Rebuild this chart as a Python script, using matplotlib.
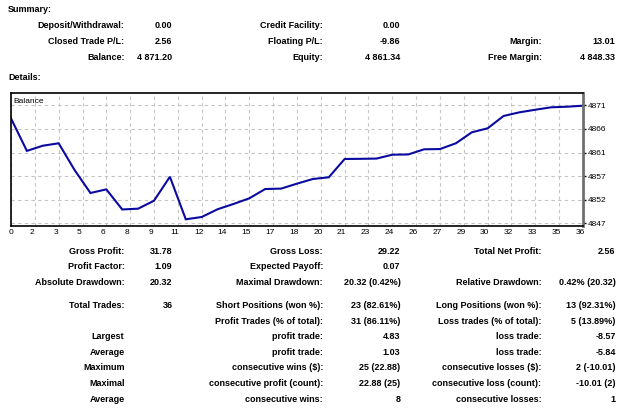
import matplotlib
matplotlib.use("Agg")
import matplotlib.pyplot as plt
import matplotlib.transforms as mtransforms
from matplotlib import font_manager


# Kontostand nach jedem Trade (0 = Start)
trades = list(range(37))
balance = [4868.64, 4862.10, 4863.14, 4863.63, 4858.25, 4853.62, 4854.35,
           4850.30, 4850.46, 4852.06, 4856.89, 4848.32, 4848.78, 4850.34,
           4851.40, 4852.55, 4854.42, 4854.50, 4855.50, 4856.44, 4856.78,
           4860.47, 4860.50, 4860.55, 4861.33, 4861.38, 4862.42, 4862.47,
           4863.63, 4865.84, 4866.65, 4869.13, 4869.87, 4870.39, 4870.88,
           4871.00, 4871.20]

x_ticks = [i * 1.5 for i in range(25)]
x_tick_labels = ["0", "2", "3", "5", "6", "8", "9", "11", "12", "14", "15",
                 "17", "18", "20", "21", "23", "24", "26", "27", "29", "30",
                 "32", "33", "35", "36"]
y_ticks = [4847.51, 4852.26, 4857.02, 4861.77, 4866.52, 4871.28]
y_tick_labels = ["4847", "4852", "4857", "4861", "4866", "4871"]

summary_col1 = [("Deposit/Withdrawal:", "0.00"), ("Closed Trade P/L:", "2.56"),
                ("Balance:", "4 871.20")]
summary_col2 = [("Credit Facility:", "0.00"), ("Floating P/L:", "-9.86"),
                ("Equity:", "4 861.34")]
summary_col3 = [("", ""), ("Margin:", "13.01"), ("Free Margin:", "4 848.33")]

details_col1 = [("Gross Profit:", "31.78"), ("Profit Factor:", "1.09"),
                ("Absolute Drawdown:", "20.32"), ("Total Trades:", "36"),
                ("", ""), ("Largest", ""), ("Average", ""), ("Maximum", ""),
                ("Maximal", ""), ("Average", "")]
details_col2 = [("Gross Loss:", "29.22"), ("Expected Payoff:", "0.07"),
                ("Maximal Drawdown:", "20.32 (0.42%)"),
                ("Short Positions (won %):", "23 (82.61%)"),
                ("Profit Trades (% of total):", "31 (86.11%)"),
                ("profit trade:", "4.83"), ("profit trade:", "1.03"),
                ("consecutive wins ($):", "25 (22.88)"),
                ("consecutive profit (count):", "22.88 (25)"),
                ("consecutive wins:", "8")]
details_col3 = [("Total Net Profit:", "2.56"), ("", ""),
                ("Relative Drawdown:", "0.42% (20.32)"),
                ("Long Positions (won %):", "13 (92.31%)"),
                ("Loss trades (% of total):", "5 (13.89%)"),
                ("loss trade:", "-8.57"), ("loss trade:", "-5.84"),
                ("consecutive losses ($):", "2 (-10.01)"),
                ("consecutive loss (count):", "-10.01 (2)"),
                ("consecutive losses:", "1")]


# Schmale Schrift suchen, falls vorhanden
installed = {f.name for f in font_manager.fontManager.ttflist}
font = "Liberation Sans"
for name in ["Liberation Sans Narrow", "DejaVu Sans Condensed"]:
    if name in installed:
        font = name
        break
plt.rcParams["font.family"] = [font, "DejaVu Sans"]

W, H = 625, 408
fig = plt.figure(figsize=(W / 100, H / 100), dpi=100)


def px(x, y):
    return x / W, 1 - y / H


def put(x, y, s, ha="right", size=6.5, weight="bold"):
    fig.text(*px(x, y), s, ha=ha, va="center", fontsize=size, fontweight=weight,
             color="black")


put(8, 10, "Summary:", ha="left")
put(8, 78, "Details:", ha="left")

summary_y = [25, 41, 57]
for col, (lx, vx) in zip([summary_col1, summary_col2, summary_col3],
                         [(124.5, 172.5), (323, 400.5), (541.5, 615.5)]):
    for (lab, val), y in zip(col, summary_y):
        put(lx, y, lab)
        put(vx, y, val)

details_y = [251, 266.7, 282.3, 305.3, 321, 336.7, 352.3, 368, 383.7, 399.3]
for col, (lx, vx) in zip([details_col1, details_col2, details_col3],
                         [(124.5, 172.5), (323, 400.5), (541.5, 615.5)]):
    for (lab, val), y in zip(col, details_y):
        put(lx, y, lab)
        put(vx, y, val)

# Balance-Diagramm
left, right, top, bottom = 11, 583, 93, 225.7
ax = fig.add_axes([left / W, 1 - bottom / H, (right - left) / W, (bottom - top) / H])
ax.plot(trades, balance, color="#0a0aa0", lw=1.5, solid_joinstyle="miter")
ax.set_xlim(0, 36)
ax.set_ylim(4847.03, 4873.76)
ax.set_xticks(x_ticks)
ax.set_xticklabels(x_tick_labels)
ax.set_yticks(y_ticks)
ax.set_yticklabels(y_tick_labels)
ax.yaxis.tick_right()
ax.tick_params(axis="x", length=0, pad=2.5, labelsize=6, colors="black")
ax.tick_params(axis="y", length=2, pad=1.5, labelsize=6, width=1)
off = mtransforms.ScaledTranslation(-3 / 100, 0, fig.dpi_scale_trans)
for lab in ax.get_xticklabels()[1:]:
    lab.set_transform(lab.get_transform() + off)
ax.grid(True, color="#c4c4c4", ls=(0, (3, 3)), lw=0.8)
for s in ["top", "left", "bottom"]:
    ax.spines[s].set_linewidth(1.2)
    ax.spines[s].set_color("black")
ax.spines["right"].set_linewidth(2)
ax.spines["right"].set_color("#707070")
ax.text(0.005, 0.96, "Balance", transform=ax.transAxes, ha="left", va="top",
        fontsize=6)

fig.savefig("out.png", dpi=100)
